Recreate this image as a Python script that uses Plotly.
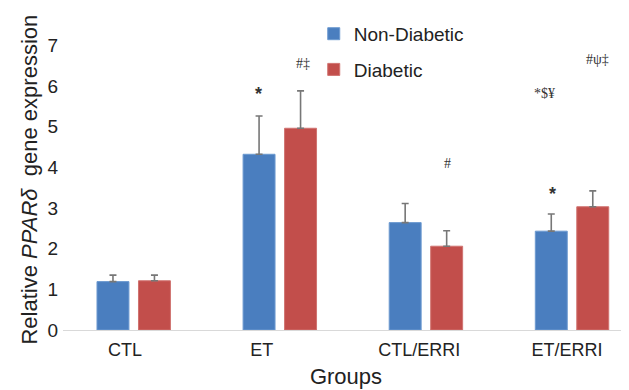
import plotly.graph_objects as go

groups = ["CTL", "ET", "CTL/ERRI", "ET/ERRI"]
non_diabetic = [1.19, 4.32, 2.64, 2.43]
non_diabetic_err = [0.16, 0.94, 0.47, 0.42]
diabetic = [1.21, 4.96, 2.06, 3.03]
diabetic_err = [0.14, 0.92, 0.38, 0.39]

# significance marks: text, x in group units, y in data units
marks_text = ["*", "#‡", "#", "*$¥", "#ψ‡", "*"]
marks_x = [0.855, 1.16, 2.146, 2.811, 3.173, 2.865]
marks_y = [5.80, 6.56, 4.10, 5.82, 6.66, 3.34]

x_pos = list(range(len(groups)))
tick_pos = [-0.06, 0.877, 1.955, 2.966]

BLUE = "#4A7EBF"
RED = "#C24E4B"

fig = go.Figure()
fig.add_trace(go.Bar(
    x=x_pos, y=non_diabetic, name="Non-Diabetic", legendgroup="a",
    marker=dict(color=BLUE, line=dict(color="#6D9AD0", width=1)),
    error_y=dict(type="data", symmetric=False, array=non_diabetic_err,
                 arrayminus=[0] * 4, color="#777777", thickness=1.6, width=3.5),
))
fig.add_trace(go.Bar(
    x=x_pos, y=diabetic, name="Diabetic", legendgroup="b",
    marker=dict(color=RED, line=dict(color="#D07370", width=1)),
    error_y=dict(type="data", symmetric=False, array=diabetic_err,
                 arrayminus=[0] * 4, color="#777777", thickness=1.6, width=3.5),
))

for t, mx, my in zip(marks_text, marks_x, marks_y):
    if t == "*":
        font = dict(family="Liberation Sans", size=18, color="#333333", weight="bold")
    else:
        font = dict(family="Liberation Serif", size=14, color="#333333")
    fig.add_annotation(x=mx, y=my, xref="x", yref="y", text=t, showarrow=False, font=font)

fig.add_annotation(
    xref="paper", yref="paper", x=-0.06, y=0.50, xanchor="center", yanchor="middle",
    text="Relative <i>PPARδ</i>  gene expression", textangle=-90, showarrow=False,
    font=dict(family="Liberation Sans", size=22, color="#222222"),
)

fig.update_layout(
    template="none",
    width=621, height=382,
    margin=dict(l=55, r=0, t=21, b=60, pad=0),
    paper_bgcolor="white", plot_bgcolor="white",
    barmode="group", bargap=0.432, bargroupgap=0.23,
    font=dict(family="Liberation Sans", color="#222222"),
    showlegend=True,
    legend=dict(x=0.443, y=1.047, xanchor="left", yanchor="top",
                font=dict(size=19, color="#222222"), tracegroupgap=8,
                bgcolor="rgba(0,0,0,0)", borderwidth=0),
    xaxis=dict(range=[-0.484, 3.39], tickmode="array", tickvals=tick_pos, ticktext=groups,
               automargin=False,
               showgrid=False, zeroline=False, showline=True, linecolor="#D9D9D9", linewidth=1,
               ticks="", ticklabelstandoff=3, tickfont=dict(size=18, color="#222222"),
               title=dict(text="Groups", font=dict(size=22, color="#222222"), standoff=10)),
    yaxis=dict(range=[0, 7.4], tickvals=[0, 1, 2, 3, 4, 5, 6, 7], showgrid=False,
               automargin=False,
               zeroline=False, showline=False, ticks="", ticklabelstandoff=4,
               tickfont=dict(size=19, color="#222222")),
)

fig.write_html("out.html")
